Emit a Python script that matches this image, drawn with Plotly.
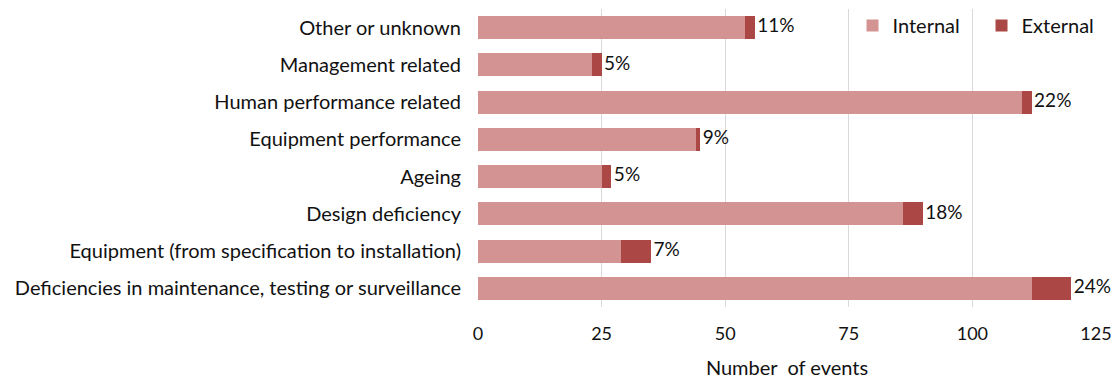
import plotly.graph_objects as go

categories = [
    "Deficiencies in maintenance, testing or surveillance",
    "Equipment (from specification to installation)",
    "Design deficiency",
    "Ageing",
    "Equipment performance",
    "Human performance related",
    "Management related",
    "Other or unknown",
]
internal = [112, 29, 86, 25, 44, 110, 23, 54]
external = [8, 6, 4, 2, 1, 2, 2, 2]
pct_labels = ["24%", "7%", "18%", "5%", "9%", "22%", "5%", "11%"]
x_ticks = [0, 25, 50, 75, 100, 125]

totals = [i + e for i, e in zip(internal, external)]
FONT = "Lato, Open Sans, sans-serif"
FS = 20

fig = go.Figure()
fig.add_trace(go.Bar(y=categories, x=internal, orientation="h", name="Internal",
                     marker=dict(color="#d39392", line=dict(width=0))))
fig.add_trace(go.Bar(y=categories, x=external, orientation="h", name="External",
                     marker=dict(color="#ab4745", line=dict(width=0))))
fig.add_trace(go.Scatter(y=categories, x=totals, mode="text",
                         text=["\u2009" + t for t in pct_labels],
                         textposition="middle right", showlegend=False,
                         textfont=dict(size=19, color="#111", family=FONT), cliponaxis=False))

fig.update_layout(
    barmode="stack",
    bargap=0.38,
    width=1112, height=381,
    margin=dict(l=478, r=16, t=9, b=74, autoexpand=False),
    plot_bgcolor="white", paper_bgcolor="white",
    font=dict(family=FONT, size=FS, color="#111"),
    legend=dict(orientation="h", x=0.606, y=1.01, xanchor="left", yanchor="top",
                bgcolor="rgba(0,0,0,0)", font=dict(size=FS), itemwidth=30,
                entrywidth=84, entrywidthmode="pixels",
                traceorder="normal", tracegroupgap=0),
    showlegend=True,
)
fig.update_xaxes(range=[0, 125], tickvals=x_ticks, showgrid=True, gridcolor="#d9d9d9",
                 gridwidth=1.2, zeroline=False, showline=False, automargin=False,
                 title=dict(text="Number  of events", standoff=17, font=dict(size=FS)),
                 ticks="", ticklabelstandoff=14, tickfont=dict(size=18),
                 ticklabeloverflow="allow")
fig.update_yaxes(range=[-0.5, 7.5], showgrid=False, ticks="", ticklabelstandoff=16,
                 showline=False, automargin=False)

fig.write_html("out.html")
